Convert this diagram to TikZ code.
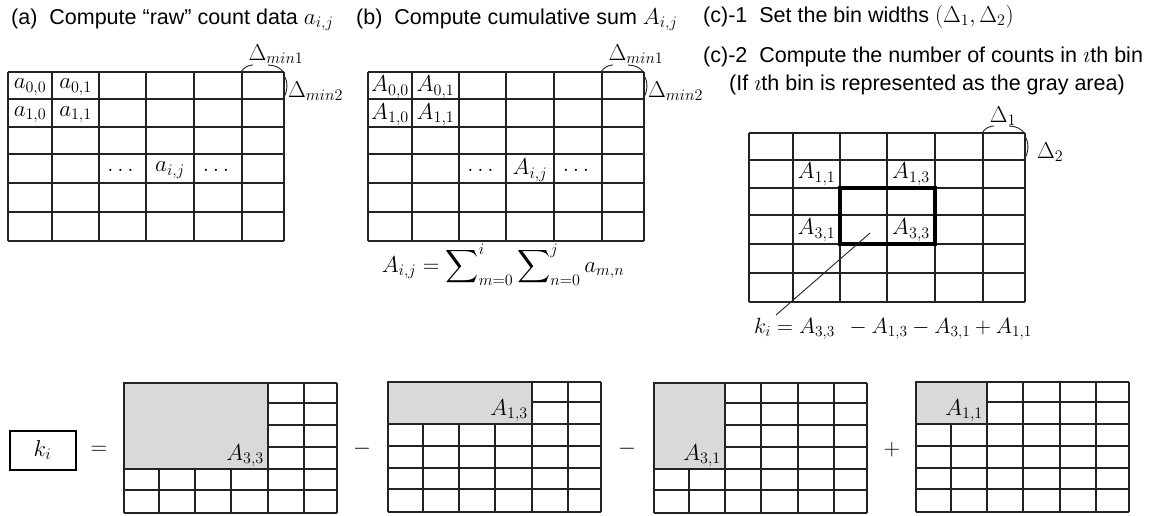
\RequirePackage{fix-cm}
\documentclass[tikz,border=0pt]{standalone}
\usepackage[no-math]{fontspec}
\setmainfont{Liberation Sans}
\usepackage{amsmath, amssymb}
\usepackage{xcolor}
\definecolor{binfill}{RGB}{217, 217, 217}
\definecolor{gridink}{RGB}{35, 35, 35}
\usepackage{tikz}
\usetikzlibrary{calc}
\newcommand{\mth}[1]{{\fontsize{23}{27}\selectfont$#1$}}
\newcommand{\topcols}{0,44,91,138,186,234,276}
\newcommand{\toprows}{0,27,55,82,111,140,169}
\newcommand{\lowcols}{0,35,71,107,144,180,213}
\newcommand{\lowrows}{0,20,42,64,86,107,130}

\begin{document}
\begin{tikzpicture}[x=1pt, y=-1pt,
    gridline/.style={draw=gridink, line width=1.1pt},
    brace/.style={draw=gridink, line width=0.9pt},
    title/.style={anchor=base west, inner sep=0pt, font=\fontsize{21.5}{25}\selectfont},
    cell/.style={inner sep=0pt, font=\fontsize{23}{27}\selectfont},
    grayarea/.style={fill=binfill, draw=gridink, line width=1.2pt},
    binlabel/.style={cell, anchor=south east}]
  \useasboundingbox (0,0) rectangle (1175,515);
  % titles
  \node[title] (ttla) at (11,24) {(a)~~Compute “raw” count data \mth{a_{i,j}}};
  \node[title] (ttlb) at (356,24) {(b)~~Compute cumulative sum \mth{A_{i,j}}};
  \node[title] (ttlc) at (703,22) {(c)-1~~Set the bin widths \mth{(\Delta_1,\Delta_2)}};
  \node[title] (ttld) at (703,62) {(c)-2~~Compute the number of counts in \mth{\imath}th bin};
  \node[title] (ttle) at (729,90) {(If \mth{\imath}th bin is represented as the gray area)};
  % upper grids with the bin width arcs
  \foreach \gx/\gy in {8/72, 368/72, 749/133} {
    \begin{scope}[shift={(\gx,\gy)}]
      \foreach \cx in \topcols \draw[gridline] (\cx,0) -- (\cx,169);
      \foreach \ry in \toprows \draw[gridline] (0,\ry) -- (276,\ry);
      \draw[brace] (233,0) .. controls (236,-5) and (241,-7) .. (245,-7);
      \draw[brace] (260,-7) .. controls (267,-7) and (273,-4) .. (276,1);
      \draw[brace] (276,4) .. controls (280,8) and (280,21) .. (275,26);
    \end{scope}
  }
  % (a) raw count data
  \node[cell] (a00) at (30,87) {$a_{0,0}$};
  \node[cell] (a01) at (75.5,87) {$a_{0,1}$};
  \node[cell] (a10) at (30,114.5) {$a_{1,0}$};
  \node[cell] (a11) at (75.5,114.5) {$a_{1,1}$};
  \node[cell] (adotl) at (122.5,170) {$\dots$};
  \node[cell] (aij) at (170,170) {$a_{i,j}$};
  \node[cell] (adotr) at (218,170) {$\dots$};
  \node[cell, anchor=south] (amin1) at (276,64) {$\Delta_{min1}$};
  \node[cell, anchor=base west] (amin2) at (288,97) {$\Delta_{min2}$};
  % (b) cumulative sum
  \node[cell] (b00) at (390,87) {$A_{0,0}$};
  \node[cell] (b01) at (435.5,87) {$A_{0,1}$};
  \node[cell] (b10) at (390,114.5) {$A_{1,0}$};
  \node[cell] (b11) at (435.5,114.5) {$A_{1,1}$};
  \node[cell] (bdotl) at (482.5,170) {$\dots$};
  \node[cell] (bij) at (530,170) {$A_{i,j}$};
  \node[cell] (bdotr) at (578,170) {$\dots$};
  \node[cell, anchor=south] (bmin1) at (636,64) {$\Delta_{min1}$};
  \node[cell, anchor=base west] (bmin2) at (648,97) {$\Delta_{min2}$};
  \node[cell, anchor=base] (bsum) at (503,272)
    {$\displaystyle A_{i,j} = \sum\nolimits_{m=0}^{i} \sum\nolimits_{n=0}^{j} a_{m,n}$};
  % (c) bins
  \node[cell] (c11) at (816.5,174) {$A_{1,1}$};
  \node[cell] (c13) at (911,174) {$A_{1,3}$};
  \node[cell] (c31) at (816.5,230) {$A_{3,1}$};
  \node[cell] (c33) at (911,230) {$A_{3,3}$};
  \node[cell, anchor=south] (cd1) at (1003,126) {$\Delta_1$};
  \node[cell, anchor=base west] (cd2) at (1037,158) {$\Delta_2$};
  \draw[draw=black, line width=3.2pt] (840,188) rectangle (935,244);
  \node[cell, anchor=base, font=\fontsize{22}{26}\selectfont] (kform) at (893,333)
    {$k_i = A_{3,3}\;\, - A_{1,3} - A_{3,1} + A_{1,1}$};
  \coordinate (kpt) at (870,233);
  \coordinate (kend) at (776,315);
  \draw[gridline, line width=0.9pt] (kpt) -- (kend);
  % bottom row: k_i as four cumulative sums
  \node[cell, draw=black, line width=2pt, minimum width=66pt, minimum height=39pt] (kbox) at (42.5,450) {$k_i$};
  \node[cell] (eq) at (99,450) {$=$};
  \node[cell] (subA) at (362,449) {$-$};
  \node[cell] (subB) at (627,449) {$-$};
  \node[cell] (add) at (892,450) {$+$};
  \foreach \gx/\gy/\gw/\gh/\ij/\nm in {124/383/144/86/{3,3}/s33, 388/382/144/42/{1,3}/s13,
      654/383/71/86/{3,1}/s31, 916/382/71/42/{1,1}/s11} {
    \begin{scope}[shift={(\gx,\gy)}]
      \foreach \cx in \lowcols \draw[gridline] (\cx,0) -- (\cx,130);
      \foreach \ry in \lowrows \draw[gridline] (0,\ry) -- (213,\ry);
      \filldraw[grayarea] (0,0) rectangle (\gw,\gh);
      \node[binlabel] (\nm) at (\gw-4,\gh-2) {$A_{\ij}$};
    \end{scope}
  }
\end{tikzpicture}
\end{document}
